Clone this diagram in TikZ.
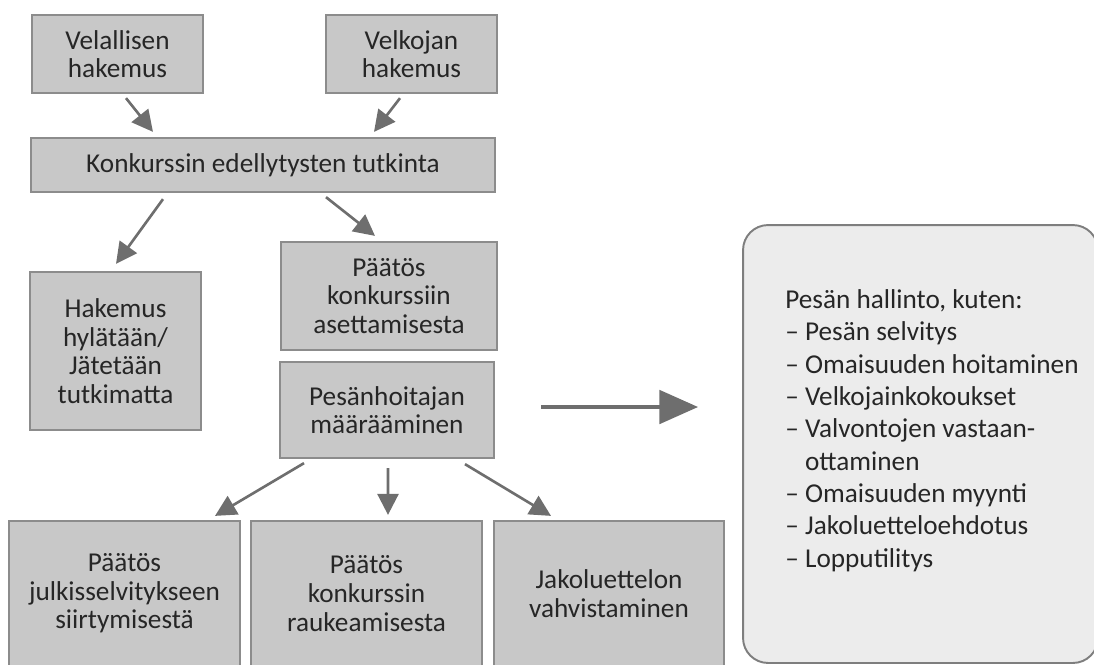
\documentclass[tikz,border=0pt]{standalone}
\usepackage{fontspec}
\setmainfont{Carlito}
\usetikzlibrary{arrows.meta}
\definecolor{boxfill}{HTML}{C8C8C8}
\definecolor{boxline}{HTML}{8C8C8C}
\definecolor{panelfill}{HTML}{ECECEC}
\definecolor{panelline}{HTML}{7E7E7E}
\definecolor{arrgray}{HTML}{6E6E6E}
\definecolor{textgray}{HTML}{262626}

\begin{document}
\begin{tikzpicture}[x=0.02cm, y=-0.02cm,
    box/.style={draw=boxline, fill=boxfill, line width=1.3pt, align=center, inner sep=0pt,
      text=textgray, font=\fontsize{15.5pt}{16.3pt}\selectfont},
    panel/.style={draw=panelline, fill=panelfill, line width=1.1pt, rounded corners=0.5cm},
    arr/.style={draw=arrgray, line width=1.5pt, -{Triangle[length=12pt, width=12pt]}},
    bigarr/.style={draw=arrgray, line width=2.2pt, -{Triangle[length=22pt, width=19pt]}}]
    \clip (0,0) rectangle (1094,664);
    \node [box, minimum width=3.42cm, minimum height=1.56cm] (velal) at (117.5,54) {Velallisen\\hakemus};
    \node [box, minimum width=3.42cm, minimum height=1.56cm] (velko) at (411.5,54) {Velkojan\\hakemus};
    \node [box, minimum width=9.28cm, minimum height=1.08cm] (tutk) at (263,165) {Konkurssin edellytysten tutkinta};
    \node [box, minimum width=3.42cm, minimum height=3.16cm] (hylat) at (115.5,351) {Hakemus\\hylätään/\\Jätetään\\tutkimatta};
    \node [box, minimum width=4.32cm, minimum height=2.16cm] (asett) at (389,296) {Päätös\\konkurssiin\\asettamisesta};
    \node [box, minimum width=4.28cm, minimum height=1.92cm] (pesanh) at (387,410) {Pesänhoitajan\\määrääminen};
    \node [box, minimum width=4.62cm, minimum height=2.9cm] (julk) at (124.5,593.5) {Päätös\\julkisselvitykseen\\siirtymisestä};
    \node [box, minimum width=4.62cm, minimum height=2.9cm] (rauk) at (366.5,593.5) {Päätös\\konkurssin\\raukeamisesta};
    \node [box, minimum width=4.6cm, minimum height=2.9cm] (jako) at (609,593.5) {Jakoluettelon\\vahvistaminen};
    \node [panel, minimum width=7.1cm, minimum height=8.76cm] (hallinto) at (920.5,444) {};
    \node [anchor=base west, align=left, inner sep=0pt, text=textgray,
      font=\fontsize{15.5pt}{18.4pt}\selectfont] (lista) at (785,567)
      {Pesän hallinto, kuten:\\-- Pesän selvitys\\-- Omaisuuden hoitaminen\\-- Velkojainkokoukset\\-- Valvontojen vastaan-\\\hphantom{-- }ottaminen\\-- Omaisuuden myynti\\-- Jakoluetteloehdotus\\-- Lopputilitys};

    \draw [arr] ([shift={(8.5,4)}]velal.south) -- ([shift={(-110,-5)}]tutk.north);
    \draw [arr] ([shift={(-11.5,4)}]velko.south) -- ([shift={(111,-5)}]tutk.north);
    \draw [arr] ([shift={(-100,6)}]tutk.south) -- ([shift={(0.5,-7)}]hylat.north);
    \draw [arr] ([shift={(63,4)}]tutk.south) -- ([shift={(-14,-5)}]asett.north);
    \draw [arr] ([shift={(-83,4)}]pesanh.south) -- ([shift={(90.5,-4)}]julk.north);
    \draw [arr] ([shift={(1,9)}]pesanh.south) -- ([shift={(21.5,-5)}]rauk.north);
    \draw [arr] ([shift={(78,5)}]pesanh.south) -- ([shift={(-58,-4)}]jako.north);
    \draw [bigarr] ([shift={(46,-3)}]pesanh.east) -- ([shift={(-44,-3)}]pesanh.east -| hallinto.west);
\end{tikzpicture}
\end{document}
